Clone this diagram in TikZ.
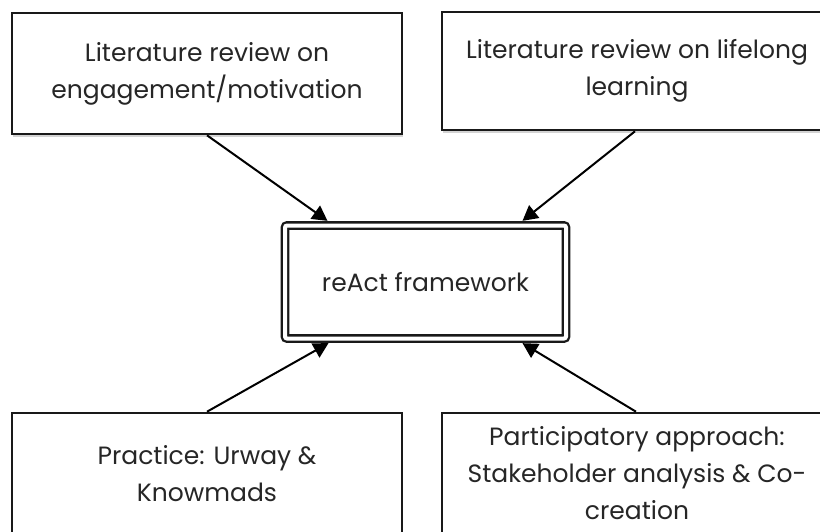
\documentclass[tikz,border=0pt]{standalone}
\usepackage{fontspec}
\setmainfont{Poppins}
\usetikzlibrary{arrows.meta,shadows,calc}
\tikzset{
  box/.style={draw=black!90, line width=2.6pt, fill=white, minimum width=390pt,
    minimum height=121pt, inner sep=0pt, align=center, text=black!85,
    font=\fontsize{25}{37}\selectfont,
    drop shadow={shadow xshift=1pt, shadow yshift=-3pt, opacity=0.35}},
  mainbox/.style={draw=black!90, line width=2.3pt, double=white, double distance=4pt,
    rounded corners=2pt, fill=white, minimum width=281pt, minimum height=113pt,
    inner sep=0pt, align=center, text=black!85, font=\fontsize{25}{37}\selectfont},
  link/.style={line width=2pt, draw=black, -{Triangle[length=15pt,width=16pt]}}
}
\begin{document}
\begin{tikzpicture}[x=1pt,y=-1pt]
\useasboundingbox (0,0) rectangle (820,531);
\clip (0,0) rectangle (820,531);
\node[box] (tl) at (207,73.5) {Literature review on\\engagement/motivation};
\node[box, minimum height=118pt] (tr) at (637,71) {Literature review on lifelong\\learning};
\node[mainbox] (c) at (425.5,282) {reAct framework};
\node[box] (bl) at (207,473.5) {Practice: Urway \&\\Knowmads};
\node[box] (br) at (637,473.5) {Participatory approach:\\Stakeholder analysis \& Co-\\creation};
\draw[link] (tl.south) -- ($(c.north)+(-98,-3.5)$);
\draw[link] ($(tr.south)+(-2,0)$) -- ($(c.north)+(97,-3.5)$);
\draw[link] (bl.north) -- ($(c.south)+(-97,3.5)$);
\draw[link] ($(br.north)+(-1,0)$) -- ($(c.south)+(97,3.5)$);
\end{tikzpicture}
\end{document}
